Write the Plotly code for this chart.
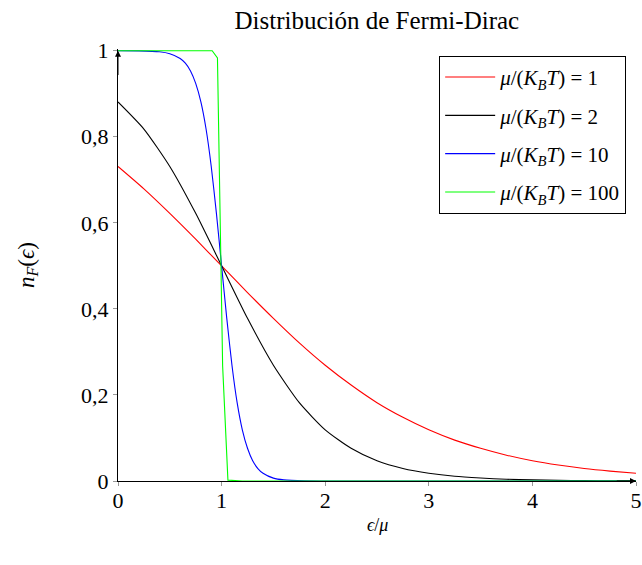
import plotly.graph_objects as go

# --- values ---
x_coarse = [0, 0.25, 0.5, 0.75, 1, 1.25, 1.5, 1.75, 2, 2.25, 2.5, 2.75,
            3, 3.25, 3.5, 3.75, 4, 4.25, 4.5, 4.75, 5]

# mu/(K_B T) = 1
n_red = [0.731, 0.679, 0.622, 0.562, 0.5, 0.438, 0.378, 0.321, 0.269, 0.223,
         0.182, 0.148, 0.119, 0.095, 0.076, 0.060, 0.047, 0.037, 0.029, 0.023, 0.018]

# mu/(K_B T) = 2
n_black = [0.881, 0.818, 0.731, 0.622, 0.5, 0.378, 0.269, 0.182, 0.119, 0.076,
           0.047, 0.029, 0.018, 0.011, 0.007, 0.004, 0.0025, 0.0015, 0.0009, 0.0006, 0.0003]

# mu/(K_B T) = 10
x_blue = [0, 0.2, 0.4, 0.5, 0.6, 0.65, 0.7, 0.75, 0.8, 0.85, 0.9, 0.95, 1.0,
          1.05, 1.1, 1.15, 1.2, 1.25, 1.3, 1.35, 1.4, 1.5, 1.6, 1.8, 2.0, 3, 4, 5]
n_blue = [1.0, 0.9997, 0.9975, 0.993, 0.982, 0.971, 0.953, 0.924, 0.881, 0.818,
          0.731, 0.622, 0.5, 0.378, 0.269, 0.182, 0.119, 0.076, 0.047, 0.029,
          0.018, 0.0067, 0.0025, 0.0003, 0.0, 0.0, 0.0, 0.0]

# mu/(K_B T) = 100
x_green = [0, 0.5, 0.909, 0.960, 1.010, 1.061, 1.2, 5]
n_green = [1.0, 1.0, 1.0, 0.983, 0.267, 0.002, 0.0, 0.0]

x_ticks = [0, 1, 2, 3, 4, 5]
y_ticks = [0, 0.2, 0.4, 0.6, 0.8, 1]

frac = '<i>μ</i>/(<i>K</i><sub><i>B</i></sub><i>T</i>)'
series = [
    (x_coarse, n_red, '#ff0000', frac + ' = 1', 'spline'),
    (x_coarse, n_black, '#000000', frac + ' = 2', 'spline'),
    (x_blue, n_blue, '#0000ff', frac + ' = 10', 'spline'),
    (x_green, n_green, '#00ff00', frac + ' = 100', 'linear'),
]

font_family = 'Liberation Serif, DejaVu Serif, serif'

fig = go.Figure()
for i, (xs, ys, color, label, shape) in enumerate(series):
    fig.add_trace(go.Scatter(x=xs, y=ys, mode='lines', name=label, legendgroup=str(i),
                             line=dict(color=color, width=1.1, shape=shape, smoothing=0.6)))

# arrow heads on the axes
fig.add_annotation(x=5, y=0, ax=4.8, ay=0, axref='x', ayref='y', text='',
                   showarrow=True, arrowhead=2, arrowsize=1.2, arrowwidth=1, arrowcolor='black')
fig.add_annotation(x=0, y=1, ax=0, ay=0.94, axref='x', ayref='y', text='',
                   showarrow=True, arrowhead=2, arrowsize=1.2, arrowwidth=1, arrowcolor='black')

# x axis label, placed by hand below the tick labels
fig.add_annotation(x=0.5, y=-0.102, xref='paper', yref='paper', text='<i>ϵ</i>/<i>μ</i>',
                   showarrow=False, xanchor='center', yanchor='middle', font=dict(size=18))

fig.update_layout(
    width=642, height=565,
    margin=dict(l=118, r=6, t=49, b=84),
    paper_bgcolor='white', plot_bgcolor='white',
    separators=',.',
    font=dict(family=font_family, size=22, color='black'),
    title=dict(text='Distribución de Fermi-Dirac', x=0.587, xanchor='center',
               y=0.965, yanchor='middle', font=dict(size=25)),
    showlegend=True,
    legend=dict(x=0.981, y=0.984, xanchor='right', yanchor='top',
                bgcolor='white', bordercolor='black', borderwidth=1,
                font=dict(size=21), itemwidth=50, tracegroupgap=8),
)

fig.update_xaxes(range=[0, 5], tickvals=x_ticks, showgrid=False, zeroline=False,
                 showline=True, linecolor='black', linewidth=1, layer='below traces',
                 ticks='outside', ticklen=4, tickcolor='#999999', automargin=False,
                 ticklabelstandoff=-4)
fig.update_yaxes(range=[0, 1.004], tickvals=y_ticks, showgrid=False, zeroline=False,
                 showline=True, linecolor='black', linewidth=1, layer='below traces',
                 ticks='outside', ticklen=4, tickcolor='#999999', automargin=False,
                 title=dict(text='<i>n</i><sub><i>F</i></sub>(<i>ϵ</i>)', standoff=40,
                            font=dict(size=23)))

# the page body has an 8px margin by default; drop it so the figure fills the window
fig.write_html("out.html", config={'displayModeBar': False},
               post_script="document.body.style.margin='0';")
